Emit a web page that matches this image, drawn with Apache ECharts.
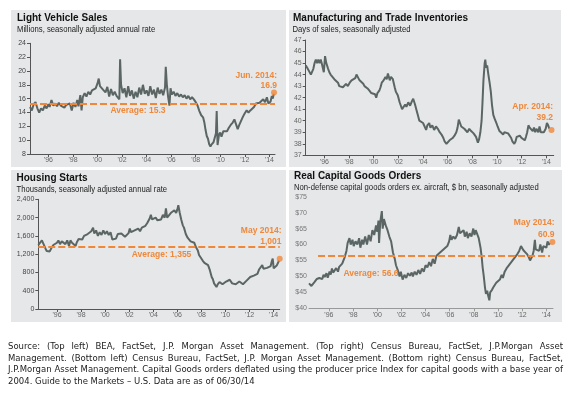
<!DOCTYPE html>
<html><head><meta charset="utf-8">
<script src="https://cdn.jsdelivr.net/npm/echarts@6/dist/echarts.min.js"></script>
<style>html,body{margin:0;padding:0;background:#fff}#c{width:573px;height:393px}</style>
</head><body><div id="c"></div>
<script>
// ---------- data ----------
const yearTicks = [1996,1998,2000,2002,2004,2006,2008,2010,2012,2014];

const lvsYears = [1994.50,1994.65,1994.80,1994.95,1995.10,1995.25,1995.40,1995.55,1995.70,1995.85,1996.00,1996.10,1996.25,1996.40,1996.55,1996.70,1996.85,1997.00,1997.15,1997.30,1997.45,1997.60,1997.75,1997.90,1998.05,1998.20,1998.35,1998.45,1998.60,1998.70,1998.80,1998.95,1999.10,1999.25,1999.40,1999.55,1999.70,1999.85,2000.00,2000.10,2000.20,2000.35,2000.50,2000.65,2000.80,2000.95,2001.10,2001.25,2001.40,2001.55,2001.70,2001.78,2001.84,2001.92,2002.05,2002.20,2002.35,2002.50,2002.65,2002.80,2002.95,2003.10,2003.25,2003.40,2003.55,2003.70,2003.85,2004.00,2004.15,2004.30,2004.45,2004.60,2004.75,2004.90,2005.05,2005.20,2005.35,2005.50,2005.56,2005.65,2005.75,2005.86,2005.95,2006.05,2006.20,2006.35,2006.50,2006.65,2006.80,2006.95,2007.10,2007.25,2007.40,2007.55,2007.70,2007.85,2008.00,2008.15,2008.30,2008.45,2008.60,2008.70,2008.80,2008.90,2009.00,2009.10,2009.20,2009.30,2009.45,2009.55,2009.65,2009.71,2009.78,2009.90,2010.00,2010.10,2010.25,2010.40,2010.55,2010.70,2010.85,2011.00,2011.15,2011.30,2011.42,2011.55,2011.70,2011.85,2012.00,2012.15,2012.30,2012.45,2012.60,2012.75,2012.90,2013.05,2013.20,2013.35,2013.50,2013.65,2013.80,2013.92,2014.00,2014.10,2014.20,2014.28,2014.36];
const lvsValues = [14.8,14.3,15.2,15.5,14.6,14.0,14.6,14.3,15.0,14.6,15.2,14.8,15.8,15.0,15.3,14.9,15.4,15.0,15.2,14.7,15.1,14.9,15.3,14.3,15.4,14.8,15.8,14.9,16.5,14.3,16.2,16.8,16.3,17.0,16.6,17.2,17.0,17.5,18.2,18.9,17.8,18.0,17.2,16.9,17.7,16.3,17.4,16.5,17.0,16.4,16.6,15.9,21.7,18.0,16.8,17.5,16.2,17.8,16.4,17.2,16.0,17.0,16.2,17.6,16.6,18.0,16.7,17.2,16.4,17.8,16.6,17.3,16.1,17.6,16.7,17.3,16.5,17.6,20.6,18.0,16.3,15.0,17.5,16.6,17.0,16.4,16.8,16.3,16.6,16.2,16.5,16.0,16.4,15.9,16.2,15.9,15.5,15.0,14.2,13.6,13.3,12.6,11.5,10.6,10.2,9.4,9.1,9.4,9.7,9.9,11.0,14.2,9.3,10.8,11.1,10.5,11.3,11.5,11.3,11.8,12.2,12.5,13.0,12.9,11.6,12.2,12.4,13.4,13.9,14.3,14.0,14.3,14.1,14.8,15.3,15.1,15.4,15.2,15.9,15.5,16.2,15.3,15.2,15.6,16.4,16.0,16.7];
const lvsAverage = 15.3;
const lvsLast = [2014.38, 16.9];

const invYears = [1994.48,1994.60,1994.75,1994.90,1995.00,1995.10,1995.20,1995.30,1995.40,1995.50,1995.60,1995.70,1995.80,1995.95,1996.05,1996.15,1996.30,1996.40,1996.50,1996.65,1996.80,1996.95,1997.10,1997.20,1997.35,1997.50,1997.60,1997.75,1997.90,1998.05,1998.20,1998.35,1998.50,1998.60,1998.70,1998.85,1999.00,1999.15,1999.25,1999.40,1999.50,1999.65,1999.80,1999.95,2000.10,2000.20,2000.30,2000.45,2000.55,2000.65,2000.80,2000.95,2001.05,2001.15,2001.30,2001.40,2001.55,2001.70,2001.80,2001.95,2002.10,2002.20,2002.30,2002.45,2002.55,2002.65,2002.80,2002.95,2003.10,2003.20,2003.35,2003.45,2003.55,2003.70,2003.85,2004.00,2004.10,2004.25,2004.35,2004.50,2004.60,2004.75,2004.90,2005.05,2005.20,2005.35,2005.50,2005.65,2005.75,2005.90,2006.00,2006.15,2006.30,2006.40,2006.55,2006.70,2006.80,2006.90,2007.00,2007.10,2007.25,2007.35,2007.50,2007.60,2007.75,2007.90,2008.00,2008.10,2008.20,2008.30,2008.45,2008.55,2008.65,2008.75,2008.82,2008.90,2009.00,2009.05,2009.12,2009.20,2009.30,2009.40,2009.50,2009.60,2009.70,2009.80,2009.95,2010.05,2010.20,2010.35,2010.50,2010.60,2010.75,2010.90,2011.00,2011.15,2011.25,2011.40,2011.50,2011.60,2011.70,2011.85,2012.00,2012.10,2012.25,2012.35,2012.45,2012.55,2012.65,2012.75,2012.90,2013.00,2013.10,2013.20,2013.35,2013.45,2013.55,2013.70,2013.80,2013.95,2014.05,2014.15,2014.25];
const invValues = [44.8,44.6,44.3,44.0,43.9,44.5,45.0,45.3,45.0,45.3,45.0,45.3,44.9,44.2,45.6,45.0,44.5,44.2,44.0,43.9,43.6,43.7,43.3,43.0,43.1,42.9,43.0,43.2,43.0,43.3,43.5,43.6,43.7,44.0,43.8,43.5,43.6,43.2,43.0,43.1,42.8,42.6,42.4,42.5,42.3,42.0,42.4,42.6,42.9,43.3,43.5,43.8,43.6,44.1,43.5,43.8,43.6,42.9,42.5,42.2,41.6,41.3,41.0,41.1,41.4,41.2,41.6,41.3,41.7,41.9,41.4,41.0,40.6,40.0,39.9,39.8,39.9,39.2,39.6,39.8,39.4,39.6,39.2,39.5,39.3,39.0,38.8,38.5,38.2,38.0,38.1,38.3,38.2,38.5,38.7,39.0,39.4,40.1,39.8,39.5,39.6,39.3,39.2,39.0,39.3,39.1,39.2,38.9,39.0,38.6,38.1,38.4,39.0,40.0,41.5,43.5,45.0,45.3,44.6,44.8,44.0,43.3,42.5,41.3,40.5,40.2,39.8,39.5,39.1,39.0,38.8,39.0,39.0,38.9,38.8,38.5,38.2,38.0,38.2,38.6,38.5,38.7,38.5,38.6,38.3,38.6,39.0,39.6,39.4,39.5,39.1,39.4,39.0,39.3,39.0,39.5,39.0,39.1,39.0,39.3,39.8,39.6,39.3];
const invLast = [2014.42, 39.2];

const hsYears = [1994.45,1994.60,1994.75,1994.90,1995.05,1995.15,1995.25,1995.40,1995.55,1995.70,1995.85,1996.00,1996.12,1996.25,1996.40,1996.55,1996.70,1996.85,1997.00,1997.12,1997.25,1997.40,1997.55,1997.65,1997.80,1997.95,1998.10,1998.25,1998.40,1998.55,1998.70,1998.85,1999.00,1999.10,1999.25,1999.40,1999.55,1999.70,1999.85,2000.00,2000.15,2000.30,2000.45,2000.60,2000.75,2000.90,2001.05,2001.20,2001.35,2001.50,2001.65,2001.80,2001.95,2002.05,2002.15,2002.30,2002.45,2002.60,2002.75,2002.90,2003.05,2003.20,2003.35,2003.50,2003.60,2003.70,2003.80,2003.90,2004.05,2004.20,2004.35,2004.50,2004.65,2004.80,2004.95,2005.05,2005.15,2005.30,2005.45,2005.60,2005.75,2005.90,2006.00,2006.08,2006.20,2006.32,2006.45,2006.55,2006.70,2006.85,2007.00,2007.10,2007.25,2007.40,2007.55,2007.70,2007.80,2007.95,2008.10,2008.25,2008.40,2008.55,2008.70,2008.85,2008.95,2009.05,2009.15,2009.25,2009.35,2009.50,2009.60,2009.75,2009.90,2010.05,2010.20,2010.35,2010.45,2010.55,2010.70,2010.85,2011.00,2011.15,2011.30,2011.45,2011.60,2011.75,2011.90,2012.05,2012.20,2012.35,2012.50,2012.65,2012.80,2012.95,2013.05,2013.15,2013.30,2013.45,2013.60,2013.75,2013.85,2013.92,2014.00,2014.10,2014.25,2014.35,2014.45];
const hsValues = [1400,1450,1500,1460,1320,1270,1300,1260,1340,1400,1420,1450,1500,1420,1480,1460,1420,1500,1380,1500,1450,1420,1380,1460,1530,1550,1520,1600,1570,1640,1620,1700,1780,1650,1720,1600,1680,1620,1720,1640,1700,1620,1680,1520,1560,1540,1640,1600,1650,1620,1580,1570,1660,1760,1680,1640,1720,1680,1760,1700,1780,1740,1820,1880,1920,1980,2060,1960,1920,2000,1940,1980,1960,2060,2000,2200,2000,2050,2100,2060,2160,2100,2180,2270,2100,1960,1830,1780,1640,1560,1600,1480,1500,1450,1350,1280,1180,1150,1060,1010,1000,960,850,700,650,560,520,480,540,590,570,540,570,600,620,640,600,560,580,540,570,600,560,540,580,620,660,700,710,730,750,770,870,880,960,880,840,900,860,940,1050,1100,890,910,950,980,1060];
const hsAverage = 1355;
const hsLast = [2014.5, 1100];

const cgYears = [1994.35,1994.45,1994.55,1994.65,1994.80,1994.90,1995.00,1995.10,1995.20,1995.30,1995.45,1995.55,1995.65,1995.80,1995.90,1996.05,1996.15,1996.25,1996.35,1996.50,1996.60,1996.75,1996.85,1997.00,1997.10,1997.20,1997.30,1997.45,1997.55,1997.70,1997.80,1997.95,1998.05,1998.20,1998.35,1998.50,1998.60,1998.75,1998.85,1999.00,1999.15,1999.30,1999.45,1999.60,1999.75,1999.90,2000.00,2000.10,2000.15,2000.25,2000.38,2000.45,2000.55,2000.70,2000.85,2001.00,2001.15,2001.30,2001.45,2001.55,2001.70,2001.85,2001.95,2002.10,2002.25,2002.40,2002.55,2002.70,2002.85,2002.95,2003.10,2003.25,2003.40,2003.55,2003.70,2003.85,2004.00,2004.15,2004.30,2004.45,2004.60,2004.75,2004.90,2005.05,2005.20,2005.35,2005.50,2005.65,2005.80,2005.95,2006.05,2006.15,2006.30,2006.45,2006.60,2006.75,2006.85,2007.00,2007.15,2007.25,2007.40,2007.50,2007.65,2007.80,2007.95,2008.05,2008.15,2008.30,2008.40,2008.55,2008.65,2008.72,2008.82,2008.92,2009.00,2009.10,2009.18,2009.28,2009.35,2009.50,2009.60,2009.75,2009.85,2010.00,2010.15,2010.30,2010.40,2010.55,2010.70,2010.85,2011.00,2011.15,2011.30,2011.45,2011.60,2011.75,2011.90,2012.00,2012.10,2012.25,2012.40,2012.55,2012.65,2012.75,2012.85,2012.95,2013.05,2013.12,2013.25,2013.40,2013.50,2013.65,2013.75,2013.85,2014.00,2014.10,2014.20,2014.30];
const cgValues = [47.8,47.2,47.0,47.5,48.2,48.8,49.2,48.8,49.5,49.0,49.2,50.5,49.8,51.0,49.6,51.5,50.6,52.5,51.2,51.0,52.6,51.5,53.0,52.4,54.0,53.5,56.0,58.0,60.5,62.0,60.0,61.5,59.5,61.0,60.0,62.0,59.0,61.5,60.0,62.5,60.0,63.0,61.0,64.5,63.0,66.0,64.0,67.5,60.5,67.0,70.5,65.0,68.0,66.0,64.5,62.5,61.0,57.5,55.5,53.5,52.0,50.0,51.5,49.0,50.5,49.5,51.0,50.2,51.2,50.0,51.5,50.5,52.0,50.8,52.5,51.5,53.5,52.8,54.5,53.2,55.5,54.0,56.5,56.0,57.5,57.0,58.5,58.0,59.5,61.0,63.0,61.5,62.5,61.8,63.0,65.5,63.5,63.0,64.5,62.5,64.0,62.0,63.5,62.5,65.0,63.0,64.5,63.0,62.0,59.0,56.0,53.0,50.0,46.5,44.5,45.5,44.0,42.5,45.0,45.8,46.5,47.0,48.0,47.5,49.0,50.5,49.5,51.5,52.5,52.0,54.0,53.5,55.5,55.0,57.0,58.0,59.5,59.0,58.2,58.5,57.0,56.0,55.0,54.5,56.5,58.0,61.5,58.5,59.0,58.0,60.0,57.5,59.5,59.0,59.0,61.0,60.0,60.5];
const cgAverage = 56.6;
const cgLast = [2014.5, 60.8];

const footerLines = [
  "Source: (Top left) BEA, FactSet, J.P. Morgan Asset Management. (Top right) Census Bureau, FactSet, J.P.Morgan Asset",
  "Management. (Bottom left) Census Bureau, FactSet, J.P. Morgan Asset Management. (Bottom right) Census Bureau, FactSet,",
  "J.P.Morgan Asset Management. Capital Goods orders deflated using the producer price Index for capital goods with a base year of",
  "2004. Guide to the Markets \u2013 U.S. Data are as of 06/30/14"
];

// ---------- styles ----------
const ORANGE = '#f0883a';
const LINE = '#5b6664';
const PANEL = '#e5e7e8';
const SANS = '"Liberation Sans",Arial,sans-serif';
const NARROW_SCALE = 0.81;

const pairs = (xs, ys) => xs.map((x, i) => [x, ys[i]]);
const yrFmt = v => "'" + String(v).slice(2);

function xAxis(idx, min, max, dark) {
  return {
    type: 'value', gridIndex: idx, min: min, max: max,
    splitLine: {show: false},
    axisLine: {show: true, lineStyle: {color: dark ? '#555' : '#999', width: 1}},
    axisTick: {show: true, customValues: yearTicks, length: 3, inside: false, lineStyle: {color: dark ? '#555' : '#999'}},
    axisLabel: {customValues: yearTicks, formatter: yrFmt, fontFamily: SANS, fontSize: 7, color: '#666', margin: 3, hideOverlap: false}
  };
}
function yAxis(idx, min, max, interval, fmt, showLine, margin, color) {
  return {
    type: 'value', gridIndex: idx, min: min, max: max, interval: interval,
    splitLine: {show: false},
    axisLine: {show: showLine, lineStyle: {color: '#555', width: 1}},
    axisTick: {show: showLine, length: 3, lineStyle: {color: '#555'}},
    axisLabel: {formatter: fmt, fontFamily: SANS, fontSize: 7, color: color, margin: margin}
  };
}
function lineSeries(idx, data, avgData) {
  const s = {
    type: 'line', xAxisIndex: idx, yAxisIndex: idx, data: data,
    showSymbol: false, symbol: 'none', smooth: false,
    lineStyle: {color: LINE, width: 2}, z: 3, silent: true, animation: false
  };
  if (avgData) {
    s.markLine = {silent: true, symbol: 'none', label: {show: false},
      lineStyle: {color: ORANGE, type: [7, 3], width: 2}, data: avgData, animation: false};
  }
  return s;
}
function dotSeries(idx, pt) {
  return {type: 'scatter', xAxisIndex: idx, yAxisIndex: idx, data: [pt], symbol: 'circle', symbolSize: 6,
    itemStyle: {color: ORANGE}, z: 5, silent: true, animation: false};
}

// ---------- graphic text ----------
const graphics = [];
function rect(x, y, w, h) {
  graphics.push({type: 'rect', shape: {x: x, y: y, width: w, height: h}, style: {fill: PANEL}, z: -100, silent: true});
}
function txt(t, x, y, font, fill, align, sx) {
  graphics.push({type: 'text', x: x, y: y, z: 100, silent: true, scaleX: sx || 1,
    style: {text: t, font: font, fill: fill, textAlign: align || 'left', textVerticalAlign: 'middle'}});
}
rect(11, 10, 275, 157);
rect(289, 10, 272, 157);
rect(11, 170, 275, 152);
rect(289, 170, 273, 152);

const TFONT = 'bold 10px ' + SANS;
const SFONT = '9.5px ' + SANS;
const AFONT = 'bold 8.5px ' + SANS;
txt('Light Vehicle Sales', 17, 18.5, TFONT, '#111');
txt('Millions, seasonally adjusted annual rate', 17, 29.5, SFONT, '#222', 'left', NARROW_SCALE);
txt('Manufacturing and Trade Inventories', 293, 18.5, TFONT, '#111');
txt('Days of sales, seasonally adjusted', 292.5, 29.5, SFONT, '#222', 'left', NARROW_SCALE);
txt('Housing Starts', 16.5, 178.5, TFONT, '#111');
txt('Thousands, seasonally adjusted annual rate', 16.5, 189.5, SFONT, '#222', 'left', NARROW_SCALE);
txt('Real Capital Goods Orders', 294, 176.5, TFONT, '#111');
txt('Non-defense capital goods orders ex. aircraft, $ bn, seasonally adjusted', 294, 187.5, SFONT, '#222', 'left', NARROW_SCALE);

txt('Jun. 2014:', 277, 76, AFONT, ORANGE, 'right');
txt(String(lvsLast[1]), 277, 85.5, AFONT, ORANGE, 'right');
txt('Average: ' + lvsAverage, 138, 111, AFONT, ORANGE, 'center');
txt('Apr. 2014:', 553, 107, AFONT, ORANGE, 'right');
txt(String(invLast[1]), 553, 117.5, AFONT, ORANGE, 'right');
txt('May 2014:', 281.5, 231, AFONT, ORANGE, 'right');
txt('1,001', 281.5, 241.5, AFONT, ORANGE, 'right');
txt('Average: 1,355', 161.5, 254.5, AFONT, ORANGE, 'center');
txt('May 2014:', 554.5, 223, AFONT, ORANGE, 'right');
txt('60.9', 554.5, 234.5, AFONT, ORANGE, 'right');
txt('Average: ' + cgAverage, 371, 273.5, AFONT, ORANGE, 'center');

// ---------- footer (justified) ----------
(function () {
  const fam = '"DejaVu Sans","Liberation Sans",sans-serif';
  const L = 8, R = 563, W = R - L;
  const ctx = document.createElement('canvas').getContext('2d');
  const font = '9.5px ' + fam;
  ctx.font = font;
  const natMax = Math.max.apply(null, footerLines.slice(0, 3).map(l => ctx.measureText(l).width));
  const sx = Math.min(1, (W - 3) / natMax);
  const ys = [346.5, 358.3, 370, 381.8];
  footerLines.forEach((line, li) => {
    if (li === footerLines.length - 1) { txt(line, L, ys[li], font, '#222', 'left', sx); return; }
    const words = line.split(' ');
    const widths = words.map(w => ctx.measureText(w).width * sx);
    const total = widths.reduce((a, b) => a + b, 0);
    const gap = (W - total) / (words.length - 1);
    let x = L;
    words.forEach((w, i) => { txt(w, x, ys[li], font, '#222', 'left', sx); x += widths[i] + gap; });
  });
})();

// ---------- chart ----------
const chart = echarts.init(document.getElementById('c'), null, {renderer: 'canvas'});
chart.setOption({
  animation: false,
  backgroundColor: '#ffffff',
  grid: [
    {left: 30, top: 43.3, width: 245, height: 110.7, outerBoundsMode: 'none', containLabel: false},
    {left: 305.7, top: 40, width: 248, height: 115.3, outerBoundsMode: 'none', containLabel: false},
    {left: 38.3, top: 199.3, width: 241.4, height: 109.7, outerBoundsMode: 'none', containLabel: false},
    {left: 309, top: 196.7, width: 244, height: 111.6, outerBoundsMode: 'none', containLabel: false}
  ],
  xAxis: [
    xAxis(0, 1994.5, 2014.46, true),
    xAxis(1, 1994.48, 2014.6, true),
    xAxis(2, 1994.45, 2014.5, true),
    xAxis(3, 1994.35, 2014.55, false)
  ],
  yAxis: [
    yAxis(0, 8, 24, 2, null, true, 4, '#444'),
    yAxis(1, 37, 47, 1, null, true, 4, '#666'),
    yAxis(2, 0, 2400, 400, v => v.toLocaleString('en-US'), true, 4, '#444'),
    yAxis(3, 40, 75, 5, v => '$' + v, false, 2, '#777')
  ],
  series: [
    lineSeries(0, pairs(lvsYears, lvsValues), [{yAxis: lvsAverage}]),
    dotSeries(0, lvsLast),
    lineSeries(1, pairs(invYears, invValues), null),
    dotSeries(1, invLast),
    lineSeries(2, pairs(hsYears, hsValues), [{yAxis: hsAverage}]),
    dotSeries(2, hsLast),
    lineSeries(3, pairs(cgYears, cgValues), [[{coord: [1995.1, cgAverage]}, {coord: [2014.3, cgAverage]}]]),
    dotSeries(3, cgLast)
  ],
  graphic: {elements: graphics}
});
</script>
</body></html>
